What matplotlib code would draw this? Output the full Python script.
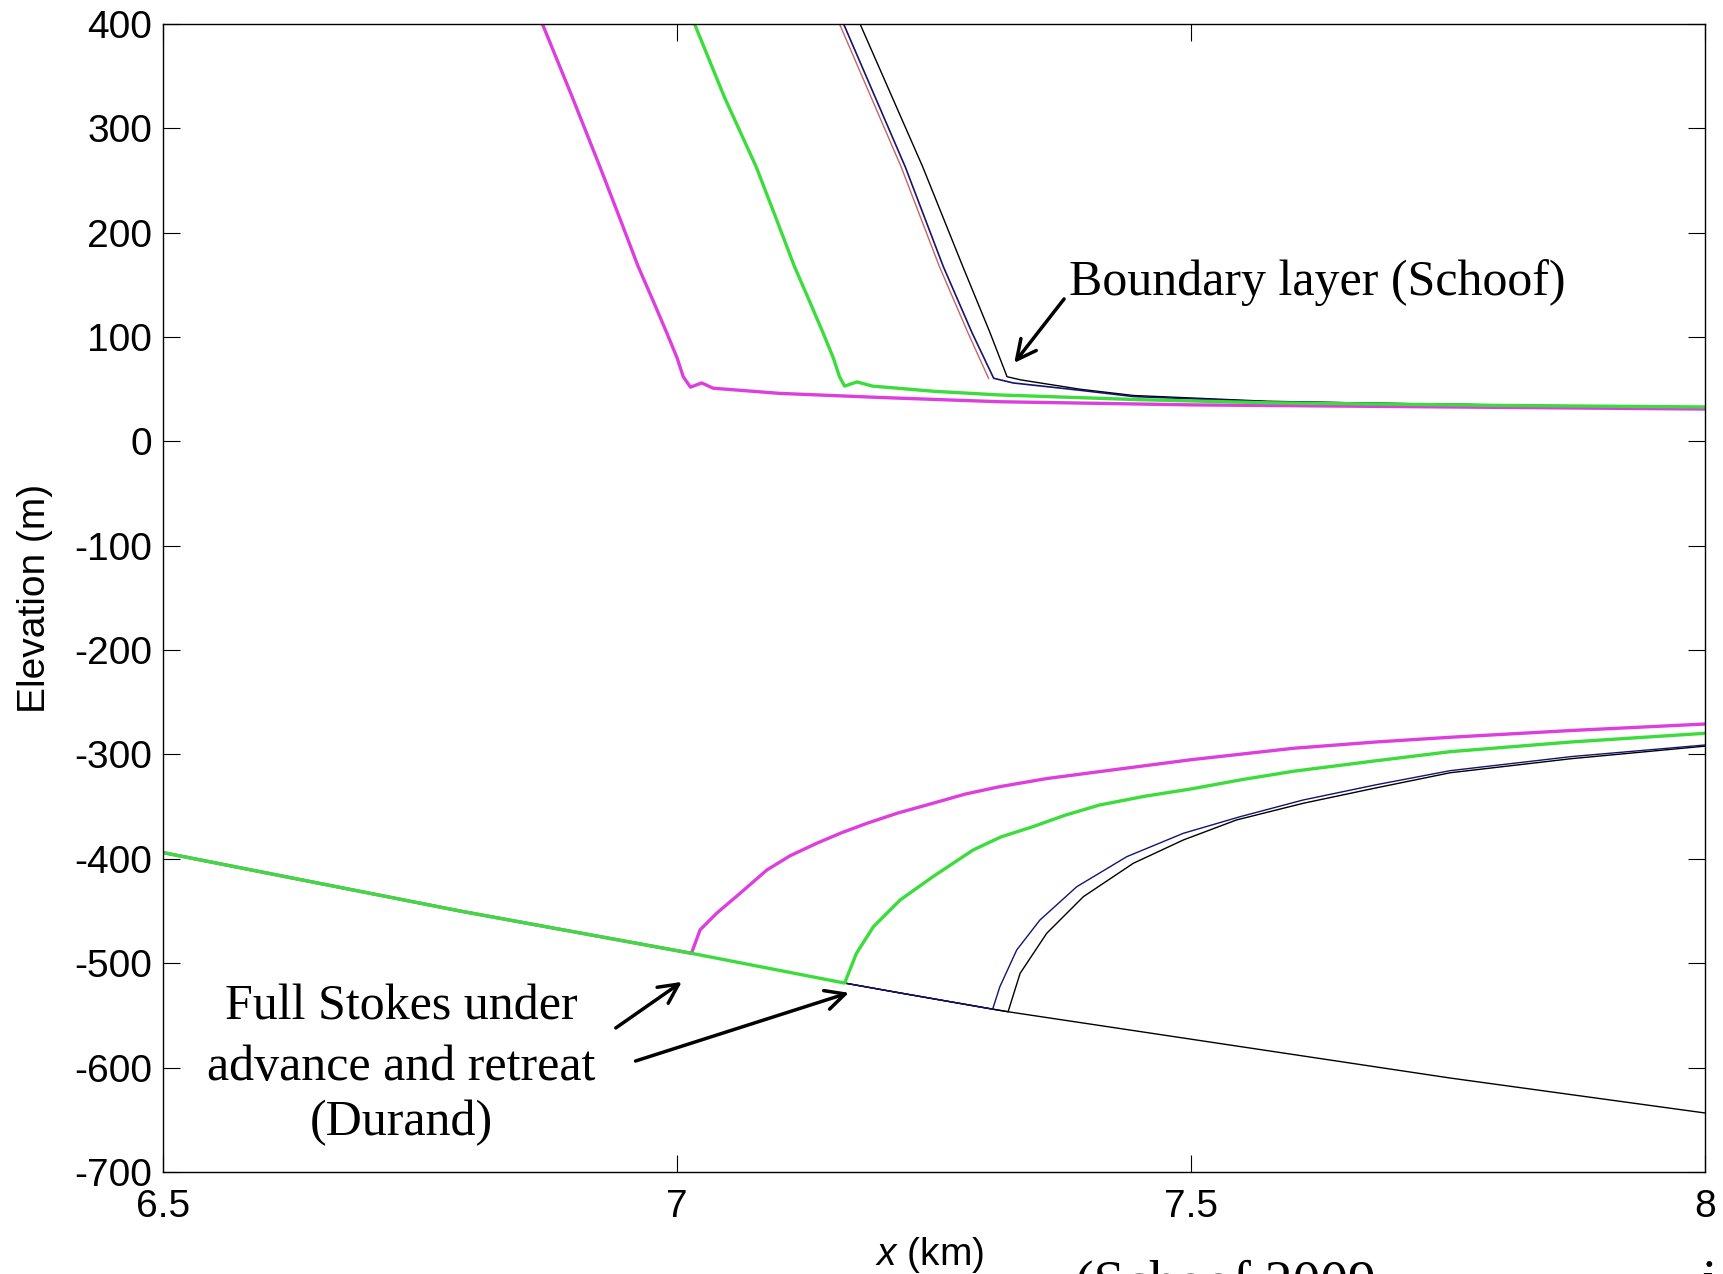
import matplotlib
matplotlib.use("Agg")
import matplotlib.pyplot as plt

plt.rcParams['font.family'] = ['Liberation Sans', 'DejaVu Sans']
plt.rcParams['mathtext.fontset'] = 'custom'
plt.rcParams['mathtext.it'] = 'Liberation Sans:italic'
plt.rcParams['mathtext.rm'] = 'Liberation Sans'
plt.rcParams['axes.unicode_minus'] = False

# upper surfaces (x in km, elevation in m)
mag_top_x = [6.869, 6.898, 6.925, 6.945, 6.962, 6.977, 6.990, 7.000, 7.006, 7.013, 7.024, 7.035, 7.10, 7.20, 7.314, 7.50, 7.75, 8.00]
mag_top_y = [400, 330, 263, 212, 168, 134, 104, 80, 62, 52, 56, 51, 46, 42, 38, 35, 33, 31]
green_top_x = [7.017, 7.046, 7.077, 7.097, 7.114, 7.129, 7.142, 7.152, 7.158, 7.163, 7.175, 7.19, 7.25, 7.314, 7.45, 7.574, 7.80, 8.00]
green_top_y = [400, 330, 263, 212, 168, 134, 104, 80, 62, 53, 57, 53, 48, 44.5, 40, 37, 34.5, 33]
red_top_x = [7.158, 7.218, 7.255, 7.283, 7.303]
red_top_y = [400, 263, 168, 104, 60.5]
navy_top_x = [7.162, 7.222, 7.259, 7.287, 7.308, 7.327, 7.392, 7.444, 7.574, 7.716, 7.87]
navy_top_y = [400, 263, 167.5, 104, 60.5, 56, 49, 43, 38, 36, 34]
black_top_x = [7.178, 7.239, 7.278, 7.3045, 7.321, 7.334, 7.392, 7.444, 7.574, 7.716, 7.87]
black_top_y = [400, 263, 167.5, 104, 62, 59, 50, 44, 38.5, 36, 34]

# bed
bed_x = [6.5, 6.789, 7.014, 7.163, 7.217, 7.307, 7.322, 7.752, 8.0]
bed_y = [-394, -450, -490.5, -519, -528.5, -544, -546.5, -610, -643.5]

# lower (shelf) surfaces
mag_low_x = [7.0224, 7.0386, 7.0613, 7.0873, 7.110, 7.136, 7.160, 7.1845, 7.215, 7.249, 7.280, 7.314, 7.360, 7.411, 7.50, 7.60, 7.680, 7.752, 7.870, 8.0]
mag_low_y = [-468, -452, -433, -410.7, -397, -385, -375, -366, -356, -346.7, -338, -330.8, -323, -316.4, -305, -294, -288, -283.5, -277, -270.8]
green_low_x = [7.1745, 7.191, 7.217, 7.249, 7.288, 7.315, 7.3466, 7.378, 7.411, 7.455, 7.50, 7.55, 7.60, 7.680, 7.752, 7.870, 8.0]
green_low_y = [-490.5, -465, -439.4, -417, -391.5, -379, -369, -358, -348.4, -340, -333, -324, -316, -306, -297.3, -288, -279.7]
navy_low_x = [7.314, 7.3304, 7.353, 7.3888, 7.4375, 7.4925, 7.5477, 7.609, 7.68, 7.752, 7.870, 8.0]
navy_low_y = [-522.5, -487.3, -458.6, -426.7, -397.9, -375.5, -359.6, -343.6, -329, -315.5, -302, -290.9]
black_low_x = [7.3337, 7.3596, 7.3953, 7.4439, 7.4925, 7.5443, 7.6093, 7.68, 7.752, 7.870, 8.0]
black_low_y = [-509.7, -471.3, -436.2, -404.2, -381.9, -362.7, -346.7, -332, -317.5, -304, -292]

MAG = '#dd3fdd'
GREEN = '#3cdc3c'
NAVY = '#14146e'
RED = '#c86464'

fig = plt.figure(figsize=(17.24, 12.74), dpi=100)
ax = fig.add_axes([0.0946, 0.0801, 0.8944, 0.9011])

# black and navy/red runs (thin)
ax.plot(bed_x, bed_y, color='black', lw=1.0)
ax.plot(bed_x[:7] + black_low_x, bed_y[:7] + black_low_y, color='black', lw=1.0)
ax.plot(black_top_x, black_top_y, color='black', lw=1.0)
ax.plot(red_top_x, red_top_y, color=RED, lw=1.0)
ax.plot(navy_top_x, navy_top_y, color=NAVY, lw=1.2)
ax.plot(bed_x[:6] + navy_low_x, bed_y[:6] + navy_low_y, color=NAVY, lw=1.0)

# magenta and green runs (thick)
ax.plot(mag_top_x, mag_top_y, color=MAG, lw=2.4)
ax.plot(bed_x[:3] + mag_low_x, bed_y[:3] + mag_low_y, color=MAG, lw=2.4)
ax.plot(green_top_x, green_top_y, color=GREEN, lw=2.4)
ax.plot(bed_x[:4] + green_low_x, bed_y[:4] + green_low_y, color=GREEN, lw=2.4)

ax.set_xlim(6.5, 8)
ax.set_ylim(-700, 400)
ax.set_xticks([6.5, 7, 7.5, 8])
ax.set_xticklabels(['6.5', '7', '7.5', '8'])
ax.set_yticks(range(-700, 401, 100))
ax.tick_params(direction='in', length=12, width=0.8, labelsize=28, top=True, right=True, pad=8)
ax.tick_params(axis='x', pad=12)
for s in ax.spines.values():
    s.set_linewidth(1.0)

ax.set_xlabel('$x$ (km)', fontsize=28)
ax.xaxis.set_label_coords(0.497, -0.055)
ax.xaxis.label.set_va('top')
ax.set_ylabel('Elevation (m)', fontsize=28)
ax.yaxis.set_label_coords(-0.0713, 0.5)

serif = 'Liberation Serif'
arrow = dict(arrowstyle='->,head_length=0.7,head_width=0.35', lw=2.5, color='black',
             shrinkA=0, shrinkB=0, mutation_scale=20)

ax.text(7.381, 140, 'Boundary layer (Schoof)', family=serif, fontsize=36, ha='left', va='baseline')
ax.annotate('', xy=(7.328, 75.2), xytext=(7.3765, 136.5), arrowprops=arrow)

ax.text(6.7315, -554.4, 'Full Stokes under', family=serif, fontsize=36, ha='center', va='baseline')
ax.text(6.7315, -611.9, 'advance and retreat', family=serif, fontsize=36, ha='center', va='baseline')
ax.text(6.7315, -664.6, '(Durand)', family=serif, fontsize=36, ha='center', va='baseline')
ax.annotate('', xy=(7.0046, -517.9), xytext=(6.9404, -562), arrowprops=arrow)
ax.annotate('', xy=(7.1671, -528.3), xytext=(6.9596, -593.7), arrowprops=arrow)

# caption cut off by the slide edge, as in the source slide
fig.text(1075 / 1724, -0.020, '(Schoof 2009', family=serif, fontsize=40, ha='left', va='baseline')
fig.text(1710 / 1724, -0.020, 'i', family=serif, fontsize=40, ha='center', va='baseline')

fig.savefig('out.png', dpi=100)
